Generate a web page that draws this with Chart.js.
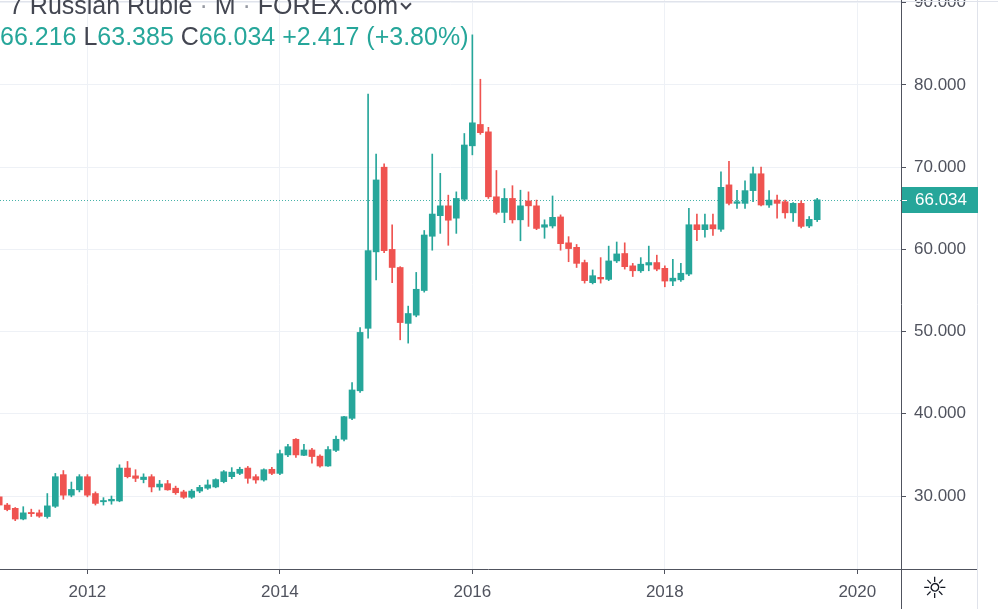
<!DOCTYPE html>
<html>
<head>
<meta charset="utf-8">
<script src="https://cdn.jsdelivr.net/npm/chart.js@4.4.1/dist/chart.umd.min.js"></script>
<style>
  html, body { margin: 0; padding: 0; background: #fff; }
  #wrap { position: relative; width: 998px; height: 609px; overflow: hidden; }
  #chart { position: absolute; left: 0; top: 0; }
  .line { position: absolute; white-space: nowrap; font-family: 'Liberation Sans', Arial, sans-serif; font-size: 25px; line-height: 25px; }
  .l1 { left: 9px; top: -7px; color: #434651; }
  .l2 { left: 0; top: 24px; color: #26a69a; }
  .dark { color: #434651; }
  .dot { color: #9598a1; }
  .chev { display: inline-block; width: 6px; height: 6px; border-right: 2px solid #434651; border-bottom: 2px solid #434651; transform: rotate(45deg); margin-left: 4px; position: relative; top: -6px; }
  #gear { position: absolute; left: 922px; top: 572px; font: 29px 'DejaVu Sans', sans-serif; line-height: 32px; color: #131722; }
</style>
</head>
<body>
<div id="wrap">
  <canvas id="chart" width="998" height="609"></canvas>
  <div class="line l1">7 Russian Ruble <span class="dot">·</span> M <span class="dot">·</span> FOREX.com<span class="chev"></span></div>
  <div class="line l2">66.216 <span class="dark">L</span>63.385 <span class="dark">C</span>66.034 +2.417 (+3.80%)</div>
  <div id="gear">☼</div>
</div>
<script>
// monthly candles, USD/RUB (FOREX.com), Feb 2011 .. Aug 2019
const months = [
  "2011-02","2011-03","2011-04","2011-05","2011-06","2011-07","2011-08","2011-09","2011-10","2011-11","2011-12",
  "2012-01","2012-02","2012-03","2012-04","2012-05","2012-06","2012-07","2012-08","2012-09","2012-10","2012-11","2012-12",
  "2013-01","2013-02","2013-03","2013-04","2013-05","2013-06","2013-07","2013-08","2013-09","2013-10","2013-11","2013-12",
  "2014-01","2014-02","2014-03","2014-04","2014-05","2014-06","2014-07","2014-08","2014-09","2014-10","2014-11","2014-12",
  "2015-01","2015-02","2015-03","2015-04","2015-05","2015-06","2015-07","2015-08","2015-09","2015-10","2015-11","2015-12",
  "2016-01","2016-02","2016-03","2016-04","2016-05","2016-06","2016-07","2016-08","2016-09","2016-10","2016-11","2016-12",
  "2017-01","2017-02","2017-03","2017-04","2017-05","2017-06","2017-07","2017-08","2017-09","2017-10","2017-11","2017-12",
  "2018-01","2018-02","2018-03","2018-04","2018-05","2018-06","2018-07","2018-08","2018-09","2018-10","2018-11","2018-12",
  "2019-01","2019-02","2019-03","2019-04","2019-05","2019-06","2019-07","2019-08"
];
const opens = [
  29.9, 28.9, 28.5, 27.2, 28.0, 27.95, 27.5, 28.75, 32.6, 30.1, 30.75,
  32.35, 30.3, 29.3, 29.4, 29.4, 33.4, 32.45, 32.0, 32.35, 31.1, 31.5, 30.95,
  30.5, 29.85, 30.6, 30.95, 31.1, 31.75, 32.35, 32.75, 33.4, 32.35, 31.95, 33.25,
  32.75, 35.0, 36.9, 34.95, 35.6, 34.85, 33.65, 35.55, 36.9, 39.45, 42.8, 50.4,
  59.7, 70.0, 60.0, 57.8, 51.0, 52.0, 55.0, 61.6, 64.1, 65.3, 63.8, 66.1,
  72.6, 75.2, 74.3, 66.4, 64.5, 66.2, 63.6, 65.9, 65.3, 62.7, 62.85, 63.95,
  60.8, 60.25, 58.4, 55.95, 56.6, 56.35, 58.6, 59.5, 58.0, 57.4, 58.1, 58.4,
  57.7, 56.15, 56.3, 57.0, 63.0, 62.4, 63.0, 62.45, 67.85, 65.6, 65.6, 67.15,
  69.2, 65.4, 66.0, 65.8, 64.45, 65.6, 62.85, 63.617
];
const highs = [
  30.3, 29.1, 28.6, 28.7, 28.4, 28.3, 30.3, 32.75, 33.1, 31.7, 32.6,
  32.6, 30.5, 29.8, 30.0, 33.8, 34.2, 33.2, 32.7, 32.6, 31.9, 31.9, 31.2,
  30.7, 30.8, 31.3, 31.95, 32.1, 33.1, 33.45, 33.5, 33.6, 32.6, 33.3, 33.5,
  35.6, 36.3, 37.0, 36.3, 35.8, 35.0, 36.0, 37.3, 39.7, 43.8, 50.5, 78.9,
  71.6, 70.4, 63.0, 57.9, 53.1, 57.2, 62.3, 71.6, 69.25, 66.6, 67.0, 74.1,
  86.1, 80.7, 74.85, 69.6, 67.4, 67.75, 67.2, 67.0, 66.0, 63.6, 66.5, 64.2,
  61.55, 60.6, 58.7, 57.5, 59.0, 60.4, 60.9, 60.8, 58.3, 59.0, 60.4, 59.3,
  58.0, 58.8, 58.3, 65.0, 64.3, 64.3, 64.3, 69.45, 70.7, 67.2, 68.35, 70.0,
  70.0, 67.15, 66.6, 66.0, 65.7, 65.9, 64.0, 66.216
];
const lows = [
  28.7, 28.2, 27.0, 27.1, 27.5, 27.4, 27.3, 28.6, 29.6, 29.9, 30.5,
  29.9, 28.9, 28.9, 29.0, 29.3, 32.2, 31.75, 31.6, 30.5, 30.7, 30.7, 30.2,
  29.7, 29.7, 30.4, 30.8, 31.0, 31.6, 32.1, 32.6, 31.55, 31.55, 31.8, 32.6,
  32.6, 34.8, 34.7, 34.9, 34.0, 33.5, 33.6, 35.4, 36.7, 39.3, 42.6, 49.2,
  56.3, 59.6, 55.95, 49.0, 48.6, 51.8, 54.8, 59.9, 61.95, 60.5, 61.95, 65.9,
  71.5, 74.0, 66.2, 64.3, 63.25, 63.2, 61.05, 62.8, 62.4, 61.35, 62.6, 59.9,
  58.5, 57.8, 55.9, 55.8, 55.9, 56.2, 58.4, 57.6, 56.7, 57.2, 57.4, 57.4,
  55.45, 55.6, 56.1, 56.8, 61.05, 61.5, 61.7, 62.2, 65.4, 65.0, 65.0, 65.8,
  65.3, 65.1, 63.8, 63.8, 63.4, 62.6, 62.65, 63.385
];
const closes = [
  28.9, 28.35, 27.2, 27.95, 27.85, 27.55, 28.8, 32.35, 30.1, 30.8, 32.35,
  30.1, 29.1, 29.45, 29.6, 33.4, 32.35, 32.15, 32.3, 31.1, 31.45, 30.75, 30.4,
  29.85, 30.6, 31.05, 31.35, 32.0, 32.95, 32.9, 33.25, 32.15, 31.95, 33.2, 32.75,
  35.15, 36.0, 35.0, 35.6, 34.8, 33.65, 35.65, 36.9, 39.65, 42.9, 49.9, 59.85,
  68.45, 59.85, 57.8, 51.1, 52.2, 55.15, 61.75, 64.3, 65.3, 63.55, 66.2, 72.7,
  75.4, 74.2, 66.4, 64.5, 66.2, 63.6, 65.3, 65.3, 62.55, 63.0, 63.9, 60.7,
  60.1, 58.3, 56.2, 56.8, 56.4, 58.6, 59.45, 57.9, 57.4, 58.2, 58.4, 57.6,
  56.15, 56.5, 57.1, 63.0, 62.4, 63.0, 62.5, 67.55, 65.6, 65.8, 67.15, 69.2,
  65.4, 66.0, 65.6, 64.45, 65.6, 62.8, 63.65, 66.034
];
const yearTicks = [2012, 2014, 2016, 2018, 2020];
const priceTicks = [30, 40, 50, 60, 70, 80, 90];
const lastClose = 66.034;

const GREEN = "#26a69a";
const RED = "#ef5350";
const GRID = "#eef1f6";
const AXIS = "#50535e";
const TEXT = "#50535e";

// months since Jan 2011
const monthPos = (label) => {
  const [y, m] = label.split("-").map(Number);
  return (y - 2011) * 12 + (m - 1);
};
const isUp = (i) => closes[i] >= opens[i];
const candleColor = (ctx) => isUp(ctx.dataIndex) ? GREEN : RED;

const bodies = months.map((m, i) => ({ x: monthPos(m), y: [opens[i], closes[i]] }));
const wicks = months.map((m, i) => ({ x: monthPos(m), y: [lows[i], highs[i]] }));

Chart.defaults.font.family = "'Liberation Sans', Arial, sans-serif";
Chart.defaults.font.size = 17;
Chart.defaults.color = TEXT;

const overlay = {
  id: "overlay",
  beforeDatasetsDraw(chart) {
    const { ctx, chartArea, scales } = chart;
    const y = Math.round(scales.y.getPixelForValue(lastClose)) + 0.5;
    ctx.save();
    ctx.strokeStyle = "rgba(38,166,154,0.85)";
    ctx.lineWidth = 1;
    ctx.setLineDash([1, 2]);
    ctx.beginPath();
    ctx.moveTo(chartArea.left, y);
    ctx.lineTo(chartArea.right, y);
    ctx.stroke();
    ctx.restore();
  },
  afterDraw(chart) {
    const { ctx, chartArea, scales } = chart;
    const W = chart.width, H = chart.height;
    ctx.save();
    // frame
    ctx.strokeStyle = "#e0e3eb";
    ctx.lineWidth = 1;
    ctx.beginPath();
    ctx.moveTo(0, 1.5); ctx.lineTo(W, 1.5);
    ctx.moveTo(977.5, 0); ctx.lineTo(977.5, H);
    ctx.stroke();
    ctx.strokeStyle = AXIS;
    ctx.beginPath();
    ctx.moveTo(0, chartArea.bottom + 0.5); ctx.lineTo(977, chartArea.bottom + 0.5);
    ctx.moveTo(chartArea.right + 0.5, 0); ctx.lineTo(chartArea.right + 0.5, H);
    ctx.stroke();
    // last price label
    const y = scales.y.getPixelForValue(lastClose);
    ctx.fillStyle = GREEN;
    ctx.fillRect(chartArea.right + 1, Math.round(y) - 13, 76, 26);
    ctx.strokeStyle = "#ffffff";
    ctx.beginPath();
    ctx.moveTo(chartArea.right + 1, Math.round(y) + 0.5);
    ctx.lineTo(chartArea.right + 6, Math.round(y) + 0.5);
    ctx.stroke();
    ctx.fillStyle = "#ffffff";
    ctx.font = "17px 'Liberation Sans', Arial, sans-serif";
    ctx.textBaseline = "middle";
    ctx.textAlign = "left";
    ctx.fillText(lastClose.toFixed(3), chartArea.right + 14, y + 1);
    ctx.restore();
  }
};

new Chart(document.getElementById("chart"), {
  type: "bar",
  data: {
    datasets: [
      {
        data: bodies,
        grouped: false,
        barThickness: 6,
        minBarLength: 1,
        borderWidth: 0,
        borderSkipped: false,
        backgroundColor: candleColor
      },
      {
        data: wicks,
        grouped: false,
        barThickness: 1,
        borderWidth: 0,
        borderSkipped: false,
        backgroundColor: candleColor
      }
    ]
  },
  options: {
    responsive: false,
    animation: false,
    devicePixelRatio: 1,
    layout: { padding: 0 },
    plugins: { legend: { display: false }, tooltip: { enabled: false } },
    scales: {
      x: {
        type: "linear",
        offset: false,
        min: 1.1,
        max: 113.45,
        grid: { offset: false, color: GRID, tickColor: AXIS, tickLength: 5 },
        border: { display: false },
        afterBuildTicks: (axis) => { axis.ticks = yearTicks.map(v => ({ value: (v - 2011) * 12 })); },
        afterFit: (axis) => { axis.height = 40; axis.paddingLeft = 0; axis.paddingRight = 0; },
        ticks: {
          padding: 8,
          maxRotation: 0,
          autoSkip: false,
          callback: (v) => String(2011 + v / 12)
        }
      },
      y: {
        type: "linear",
        position: "right",
        min: 21.12,
        max: 90.34,
        grid: { color: GRID, tickColor: AXIS, tickLength: 5 },
        border: { display: false },
        afterBuildTicks: (axis) => { axis.ticks = priceTicks.map(v => ({ value: v })); },
        afterFit: (axis) => { axis.width = 97; axis.paddingTop = 0; axis.paddingBottom = 0; },
        ticks: {
          padding: 8,
          callback: (v) => v.toFixed(3)
        }
      }
    }
  },
  plugins: [overlay]
});
</script>
</body>
</html>
